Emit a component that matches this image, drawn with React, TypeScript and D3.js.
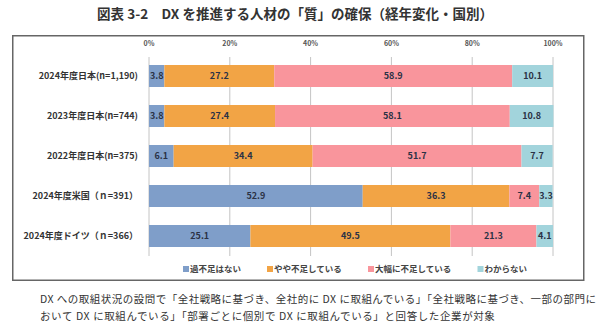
import React from "react";
import * as d3 from "d3";

const categories = [
  "2024年度日本(n=1,190)",
  "2023年度日本(n=744)",
  "2022年度日本(n=375)",
  "2024年度米国（ｎ=391）",
  "2024年度ドイツ（ｎ=366）",
];
const seriesNames = ["過不足はない", "やや不足している", "大幅に不足している", "わからない"];
const noShortage = [3.8, 3.8, 6.1, 52.9, 25.1];
const slightShortage = [27.2, 27.4, 34.4, 36.3, 49.5];
const severeShortage = [58.9, 58.1, 51.7, 7.4, 21.3];
const unknown = [10.1, 10.8, 7.7, 3.3, 4.1];
const tickValues = [0, 20, 40, 60, 80, 100];
const colors = ["#7f9ec9", "#f2a445", "#f9959c", "#a2d4dc"];

const title = "図表 3-2　DX を推進する人材の「質」の確保（経年変化・国別）";
const note1 = "DX への取組状況の設問で「全社戦略に基づき、全社的に DX に取組んでいる」「全社戦略に基づき、一部の部門に";
const note2 = "おいて DX に取組んでいる」「部署ごとに個別で DX に取組んでいる」と回答した企業が対象";

const FONT = "'Noto Sans CJK JP', 'Noto Sans', sans-serif";

export default function App() {
  const W = 614;
  const H = 334;
  const x = d3.scaleLinear().domain([0, 100]).range([149, 553]);
  const y = d3
    .scaleBand<string>()
    .domain(categories)
    .range([56, 256])
    .paddingInner(0.45)
    .paddingOuter(0.225);

  const series = [noShortage, slightShortage, severeShortage, unknown];
  const rows = categories.map((c, i) => {
    const obj: any = { cat: c };
    seriesNames.forEach((s, j) => (obj[s] = series[j][i]));
    return obj;
  });
  const stacked = d3.stack<any>().keys(seriesNames)(rows);

  // legend layout
  const legendFont = 8.5;
  const legendStart = 183;
  const legendGap = 26;
  let cursor = legendStart;
  const legendItems = seriesNames.map((name, i) => {
    const item = { name, x: cursor, color: colors[i] };
    cursor += 7 + name.length * legendFont + legendGap;
    return item;
  });

  return (
    <svg width={W} height={H} style={{ position: "absolute", left: 0, top: 0, background: "#fff" }}>
      <rect x={0} y={0} width={W} height={H} fill="#fff" />
      <text
        x={295}
        y={19}
        textAnchor="middle"
        fontFamily={FONT}
        fontWeight="bold"
        fontSize={13.5}
        fill="#333"
      >
        {title}
      </text>
      <rect x={12.75} y={35.75} width={571} height={244.5} fill="#fff" stroke="#666" strokeWidth={1.5} />

      {tickValues.map((t) => (
        <g key={t}>
          <line x1={x(t)} x2={x(t)} y1={57} y2={256} stroke="#c4c4c4" strokeWidth={1} />
          <text
            x={x(t)}
            y={46}
            textAnchor="middle"
            fontFamily={FONT}
            fontWeight="bold"
            fontSize={7}
            fill="#555"
          >
            {t}%
          </text>
        </g>
      ))}

      {stacked.map((layer, li) => (
        <g key={layer.key}>
          {layer.map((d, i) => {
            const x0 = x(d[0]);
            const x1 = x(d[1]);
            const yy = y(categories[i])!;
            return <rect key={i} x={x0} y={yy} width={x1 - x0} height={y.bandwidth()} fill={colors[li]} />;
          })}
        </g>
      ))}
      {stacked.map((layer) => (
        <g key={"l" + layer.key}>
          {layer.map((d, i) => {
            const x0 = x(d[0]);
            const x1 = x(d[1]);
            const yy = y(categories[i])!;
            return (
              <text
                key={i}
                x={(x0 + x1) / 2}
                y={yy + y.bandwidth() / 2}
                dy="0.35em"
                textAnchor="middle"
                fontFamily={FONT}
                fontWeight="bold"
                fontSize={9}
                fill="#2b3245"
              >
                {(d[1] - d[0]).toFixed(1)}
              </text>
            );
          })}
        </g>
      ))}

      {categories.map((c) => (
        <text
          key={c}
          x={138}
          y={y(c)! + y.bandwidth() / 2}
          dy="0.35em"
          textAnchor="end"
          fontFamily={FONT}
          fontWeight="bold"
          fontSize={9}
          fill="#333"
        >
          {c}
        </text>
      ))}

      {legendItems.map((it) => (
        <g key={it.name}>
          <rect x={it.x} y={266} width={6} height={6} fill={it.color} />
          <text
            x={it.x + 7}
            y={269}
            dy="0.35em"
            fontFamily={FONT}
            fontWeight="bold"
            fontSize={legendFont}
            fill="#444"
          >
            {it.name}
          </text>
        </g>
      ))}

      <text x={40} y={299} dy="0.35em" fontFamily={FONT} fontSize={10.5} fill="#333" textLength={556} lengthAdjust="spacing">
        {note1}
      </text>
      <text x={40} y={316} dy="0.35em" fontFamily={FONT} fontSize={10.5} fill="#333" letterSpacing={0.6}>
        {note2}
      </text>
    </svg>
  );
}
